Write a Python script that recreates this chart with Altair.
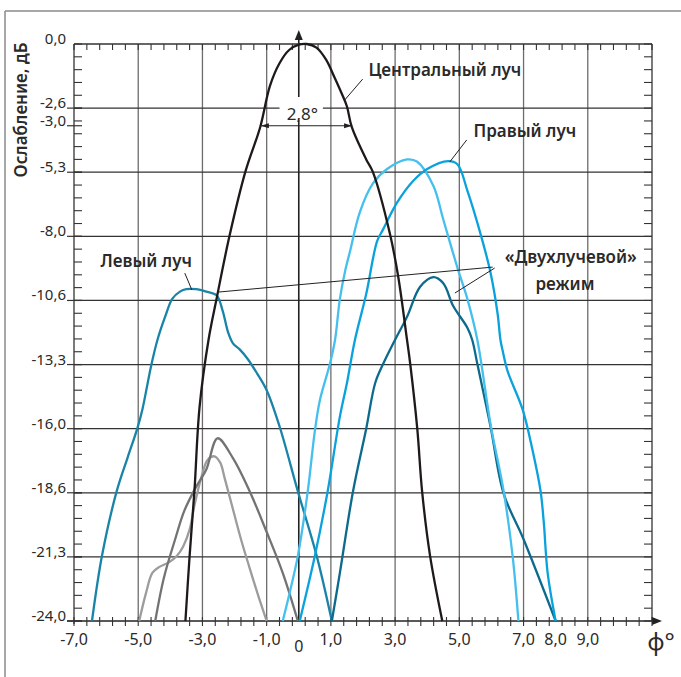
import altair as alt
import pandas as pd

# ---------------- data ----------------
central_x = [-3.53, -3.4, -3.25, -3.09, -2.81, -2.56, -2.16, -1.66, -1.2, -0.9, -0.6, -0.3, 0.0, 0.25, 0.55, 0.85, 1.1, 1.35, 1.5, 1.65, 2.1, 2.3, 2.84, 3.1, 3.37, 3.47, 3.69, 3.84, 4.09, 4.47]
central_y = [-24.0, -21.3, -18.6, -15.1, -12.3, -10.6, -8.0, -5.3, -3.45, -1.75, -0.8, -0.25, -0.03, 0.0, -0.15, -0.65, -1.35, -2.1, -2.6, -3.45, -4.8, -5.3, -7.9, -9.7, -12.3, -13.3, -16.0, -18.6, -21.3, -24.0]

left_x = [-6.44, -6.13, -5.67, -5.33, -5.03, -4.87, -4.6, -4.4, -4.15, -3.94, -3.7, -3.5, -3.2, -2.88, -2.56, -2.37, -2.2, -2.05, -1.84, -1.59, -1.3, -1.0, -0.6, -0.03, 0.56, 1.03]
left_y = [-24.0, -21.3, -18.6, -17.2, -16.0, -15.2, -13.4, -12.3, -11.3, -10.6, -10.3, -10.2, -10.2, -10.3, -10.45, -11.1, -12.0, -12.45, -12.7, -13.1, -13.7, -14.4, -15.9, -18.6, -21.3, -24.0]

two_right_x = [1.03, 1.28, 1.69, 2.1, 2.38, 2.63, 3.0, 3.37, 3.78, 4.19, 4.5, 4.81, 5.25, 5.4, 5.56, 5.97, 6.38, 7.0, 8.0]
two_right_y = [-24.0, -22.0, -18.6, -16.0, -14.1, -13.3, -12.3, -11.35, -10.1, -9.7, -9.95, -10.9, -11.8, -12.3, -13.3, -15.9, -18.7, -20.6, -24.0]

gray_dark_x = [-4.47, -4.2, -3.85, -3.56, -3.19, -2.88, -2.53, -2.06, -1.53, -1.0, -0.5, -0.03]
gray_dark_y = [-24.0, -22.2, -20.6, -19.4, -18.4, -17.7, -16.4, -17.2, -18.6, -20.3, -22.0, -24.0]

gray_light_x = [-4.97, -4.75, -4.56, -4.34, -4.03, -3.8, -3.6, -3.4, -3.25, -3.03, -2.84, -2.63, -2.45, -2.3, -2.06, -1.8, -1.53, -1.25, -1.0]
gray_light_y = [-24.0, -22.8, -22.0, -21.75, -21.55, -21.3, -20.9, -20.2, -19.2, -18.0, -17.3, -17.15, -17.4, -18.1, -19.3, -20.6, -21.8, -23.0, -24.0]

light_blue_x = [-0.5, -0.28, -0.03, 0.28, 0.5, 0.66, 0.97, 1.13, 1.28, 1.45, 1.6, 1.9, 2.31, 2.75, 3.37, 3.69, 4.19, 4.5, 4.94, 5.25, 5.56, 5.97, 6.38, 6.66, 6.84]
light_blue_y = [-24.0, -22.8, -21.3, -18.6, -16.1, -14.8, -13.3, -12.3, -10.6, -9.4, -8.6, -7.0, -5.8, -5.2, -4.8, -4.9, -5.9, -7.3, -9.3, -10.6, -12.3, -15.8, -18.6, -21.3, -24.0]

right_x = [0.03, 0.5, 0.9, 1.28, 1.5, 1.75, 2.1, 2.44, 2.63, 3.06, 3.56, 4.0, 4.65, 4.94, 5.25, 5.66, 5.97, 6.19, 6.28, 6.34, 6.5, 6.97, 7.28, 7.53, 7.63, 7.75, 8.0]
right_y = [-24.0, -21.3, -18.6, -15.5, -14.1, -12.3, -10.4, -8.2, -7.7, -6.6, -5.7, -5.2, -4.87, -5.0, -6.1, -7.9, -9.5, -11.2, -12.3, -12.7, -13.6, -15.2, -16.9, -18.6, -19.9, -22.0, -24.0]

series_names = ["gray_light", "gray_dark", "left", "two_right", "light_blue", "right", "central"]
series_colors = ["#9c9c9c", "#737373", "#1984a8", "#0c6a8c", "#45bfee", "#0aa2dc", "#1f1a1a"]

x_tick_values = [-7, -5, -3, -1, 1, 3, 5, 7, 8, 9]
x_tick_labels = ["-7,0", "-5,0", "-3,0", "-1,0", "1,0", "3,0", "5,0", "7,0", "8,0", "9,0"]
x_grid_values = [-5, -3, -1, 1, 3, 5, 7, 9]

y_grid_values = [-2.667, -5.333, -8.0, -10.667, -13.333, -16.0, -18.667, -21.333]
y_tick_values = [0.0, -2.667, -3.4, -5.333, -8.0, -10.667, -13.333, -16.0, -18.667, -21.333, -24.0]
y_tick_labels = ["0,0", "-2,6", "-3,0", "-5,3", "-8,0", "-10,6", "-13,3", "-16,0", "-18,6", "-21,3", "-24,0"]

x_minor = [round(-7 + 0.4 * k, 3) for k in range(46)]
y_minor = [round(-24 + 24 / 45 * k, 3) for k in range(46)]

beam_left_x, beam_right_x, beam_y = -1.18, 1.66, -3.4

labels_text = ["Центральный луч", "Правый луч", "Левый луч", "«Двухлучевой»", "режим"]
labels_x = [4.55, 7.04, -4.75, 8.47, 8.29]
labels_y = [-1.12, -3.66, -9.07, -8.9, -10.02]

leader_x = [1.43, 4.70, -3.55, -2.52, 6.10]
leader_x2 = [1.99, 5.23, -3.33, 6.04, 4.86]
leader_y = [-2.33, -4.91, -9.53, -10.32, -9.32]
leader_y2 = [-1.46, -3.99, -10.23, -9.28, -10.36]

# ---------------- geometry ----------------
W, H = 578, 577
FONT = "Noto Sans"
TXT = "#2a2a2a"

XS = alt.Scale(domain=[-7, 11], nice=False, zero=False)
YS = alt.Scale(domain=[-24, 0], nice=False, zero=False)


def X(f):
    return alt.X(f, type="quantitative", scale=XS, axis=None)


def Y(f):
    return alt.Y(f, type="quantitative", scale=YS, axis=None)


one = pd.DataFrame({"a": [0]})
zero_df = pd.DataFrame({"x": [0]})

layers = []

# outer figure frame
layers.append(alt.Chart(one).mark_rule(color="#8a8a8a", strokeWidth=1.5).encode(
    x=alt.value(-69), y=alt.value(-33), y2=alt.value(H + 56)))
layers.append(alt.Chart(one).mark_rule(color="#8a8a8a", strokeWidth=1.5).encode(
    x=alt.value(-69), x2=alt.value(W + 29), y=alt.value(-33)))

# grid
layers.append(alt.Chart(pd.DataFrame({"x": x_grid_values})).mark_rule(
    color="#6d6d6d", strokeWidth=1.3).encode(x=X("x"), y=alt.value(0), y2=alt.value(H)))
layers.append(alt.Chart(pd.DataFrame({"y": y_grid_values})).mark_rule(
    color="#333333", strokeWidth=1.2).encode(y=Y("y"), x=alt.value(0), x2=alt.value(W)))

# zero axis with arrow
layers.append(alt.Chart(zero_df).mark_rule(color="#222", strokeWidth=1.6).encode(
    x=X("x"), y=alt.value(-6), y2=alt.value(H)))
layers.append(alt.Chart(zero_df).mark_point(shape="M0,-1L0.8,1L-0.8,1Z", filled=True, size=100,
                                            color="#222", opacity=1).encode(
    x=X("x"), y=alt.value(-9)))

# border
layers.append(alt.Chart(one).mark_rule(color="#333", strokeWidth=1.3).encode(
    x=alt.value(0), x2=alt.value(W), y=alt.value(0)))
layers.append(alt.Chart(one).mark_rule(color="#333", strokeWidth=1.3).encode(
    x=alt.value(W), y=alt.value(0), y2=alt.value(H)))
layers.append(alt.Chart(one).mark_rule(color="#333", strokeWidth=1.3).encode(
    x=alt.value(0), y=alt.value(0), y2=alt.value(H + 3)))
layers.append(alt.Chart(one).mark_rule(color="#222", strokeWidth=1.6).encode(
    x=alt.value(-7), x2=alt.value(W + 4), y=alt.value(H)))
layers.append(alt.Chart(one).mark_point(shape="M1,0L-1,0.8L-1,-0.8Z", filled=True, size=100,
                                        color="#222", opacity=1).encode(
    x=alt.value(W + 5), y=alt.value(H)))

# ticks
xm = pd.DataFrame({"x": x_minor})
ym = pd.DataFrame({"y": y_minor})
layers.append(alt.Chart(xm).mark_rule(color="#333", strokeWidth=1.1).encode(
    x=X("x"), y=alt.value(H - 4), y2=alt.value(H + 5)))
layers.append(alt.Chart(xm).mark_rule(color="#333", strokeWidth=1.1).encode(
    x=X("x"), y=alt.value(0), y2=alt.value(6)))
layers.append(alt.Chart(ym).mark_rule(color="#333", strokeWidth=1.1).encode(
    y=Y("y"), x=alt.value(0), x2=alt.value(8)))
layers.append(alt.Chart(ym).mark_rule(color="#333", strokeWidth=1.1).encode(
    y=Y("y"), x=alt.value(W - 8), x2=alt.value(W)))
layers.append(alt.Chart(pd.DataFrame({"y": y_tick_values[1:]})).mark_rule(color="#333", strokeWidth=1.2).encode(
    y=Y("y"), x=alt.value(-7), x2=alt.value(8)))

# 2.8 deg text with white box
layers.append(alt.Chart(pd.DataFrame({"x": [-0.6], "x2": [0.75], "y": [-2.2], "y2": [-3.15]})).mark_rect(
    color="white").encode(x=X("x"), x2="x2", y=Y("y"), y2="y2"))
layers.append(alt.Chart(pd.DataFrame({"x": [0.11], "y": [-2.95], "t": ["2,8°"]})).mark_text(
    font=FONT, fontSize=17, color=TXT, baseline="middle", align="center"
).encode(x=X("x"), y=Y("y"), text="t:N"))

# curves
xs_all = [gray_light_x, gray_dark_x, left_x, two_right_x, light_blue_x, right_x, central_x]
ys_all = [gray_light_y, gray_dark_y, left_y, two_right_y, light_blue_y, right_y, central_y]
rows = []
for n, xs, ys in zip(series_names, xs_all, ys_all):
    for a, b in zip(xs, ys):
        rows.append({"s": n, "x": a, "y": b})
curves_df = pd.DataFrame(rows)
layers.append(alt.Chart(curves_df).mark_line(interpolate="catmull-rom", strokeWidth=2.3).encode(
    x=X("x"), y=Y("y"),
    color=alt.Color("s:N", scale=alt.Scale(domain=series_names, range=series_colors), legend=None),
))

# beam width arrow
layers.append(alt.Chart(pd.DataFrame({"x": [beam_left_x], "x2": [beam_right_x], "y": [beam_y]})).mark_rule(
    color="#222", strokeWidth=1.1).encode(x=X("x"), x2="x2", y=Y("y")))
layers.append(alt.Chart(pd.DataFrame({"x": [beam_left_x], "y": [beam_y]})).mark_point(
    shape="M0,0L2,-0.6L2,0.6Z", filled=True, size=64, color="#222", opacity=1
).encode(x=X("x"), y=Y("y")))
layers.append(alt.Chart(pd.DataFrame({"x": [beam_right_x], "y": [beam_y]})).mark_point(
    shape="M0,0L-2,-0.6L-2,0.6Z", filled=True, size=64, color="#222", opacity=1
).encode(x=X("x"), y=Y("y")))

# leaders and labels
layers.append(alt.Chart(pd.DataFrame({"x": leader_x, "x2": leader_x2, "y": leader_y, "y2": leader_y2})).mark_rule(
    color="#222", strokeWidth=1.0).encode(x=X("x"), x2="x2", y=Y("y"), y2="y2"))
layers.append(alt.Chart(pd.DataFrame({"x": labels_x, "y": labels_y, "t": labels_text})).mark_text(
    font=FONT, fontSize=17, fontWeight=600, color=TXT, align="center", baseline="middle"
).encode(x=X("x"), y=Y("y"), text="t:N"))

# tick labels
layers.append(alt.Chart(pd.DataFrame({"y": y_tick_values, "t": y_tick_labels})).mark_text(
    align="right", baseline="alphabetic", font=FONT, fontSize=15, color=TXT, dy=0
).encode(y=Y("y"), x=alt.value(-8), text="t:N"))
layers.append(alt.Chart(pd.DataFrame({"x": x_tick_values, "t": x_tick_labels})).mark_text(
    align="center", baseline="middle", font=FONT, fontSize=16, color=TXT
).encode(x=X("x"), y=alt.value(H + 19), text="t:N"))
layers.append(alt.Chart(pd.DataFrame({"x": [0], "t": ["0"]})).mark_text(
    align="center", baseline="middle", font=FONT, fontSize=16, color=TXT
).encode(x=X("x"), y=alt.value(H + 26), text="t:N"))

# titles
layers.append(alt.Chart(pd.DataFrame({"t": ["Ослабление, дБ"]})).mark_text(
    angle=270, align="center", baseline="middle",
    font=FONT, fontSize=17, fontWeight=600, color=TXT
).encode(x=alt.value(-52), y=alt.value(66), text="t:N"))
layers.append(alt.Chart(pd.DataFrame({"t": ["φ°"]})).mark_text(
    align="center", baseline="middle", font=FONT, fontSize=24, color=TXT
).encode(x=alt.value(W + 9), y=alt.value(H + 22), text="t:N"))

chart = alt.layer(*layers).properties(
    width=W, height=H,
    autosize=alt.AutoSizeParams(type="none"),
    padding={"left": 74, "top": 44, "right": 29, "bottom": 56},
    background="white",
).configure_view(stroke=None)

chart.save("out.html", embed_options={"renderer": "svg", "actions": False})
